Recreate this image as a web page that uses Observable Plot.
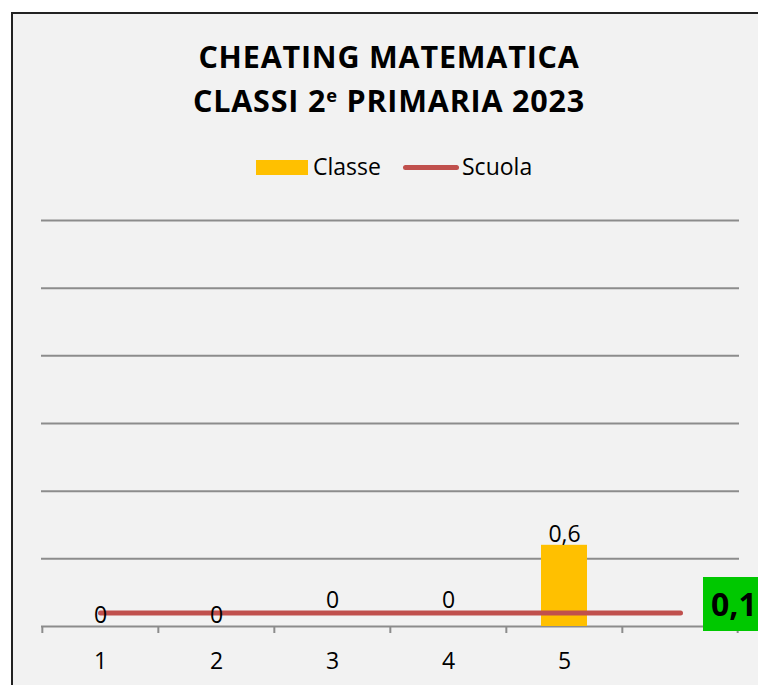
<!DOCTYPE html>
<html>
<head>
<meta charset="utf-8">
<script src="https://cdn.jsdelivr.net/npm/d3@7"></script>
<script src="https://cdn.jsdelivr.net/npm/@observablehq/plot@0.6"></script>
<style>
  html, body { margin: 0; padding: 0; background: #fff; overflow: hidden; width: 758px; height: 685px; }
  #frame { position: absolute; left: 11px; top: 12px; width: 780px; height: 700px; border-top: 2px solid #222; border-left: 2px solid #222; background: #f2f2f2; }
  #title { position: absolute; left: 0; top: 34px; width: 778px; text-align: center; font-family: "Open Sans", sans-serif; font-weight: 700; font-size: 30.5px; letter-spacing: 0.8px; line-height: 44px; color: #000; }
  #title sup { font-size: 0.6em; line-height: 0; vertical-align: 0.55em; }
  .lg { position: absolute; font-family: "Open Sans", sans-serif; font-size: 23px; line-height: 30px; color: #000; }
  #plot { position: absolute; left: 0; top: 200px; }
  #endlabel { position: absolute; left: 703px; width: 70px; height: 54px; background: #00c800; font-family: "Open Sans", sans-serif; font-weight: 700; font-size: 32px; line-height: 54px; color: #000; padding-left: 8px; box-sizing: border-box; }
</style>
</head>
<body>
<div id="frame"></div>
<div id="title">CHEATING MATEMATICA<br>CLASSI 2<sup>e</sup> PRIMARIA 2023</div>
<div id="legend"></div>
<div id="plot"></div>
<div id="endlabel"></div>
<script>
const categories = ["1", "2", "3", "4", "5", ""];
const classe = [0, 0, 0, 0, 0.6, null];
const scuola = [0.1, 0.1, 0.1, 0.1, 0.1, 0.1];
const gridValues = [0.5, 1, 1.5, 2, 2.5, 3];
const seriesNames = ["Classe", "Scuola"];
const scuolaLabel = 0.1;

const fmt = v => String(v).replace(".", ",");
const rows = categories.map((c, i) => ({cat: c, classe: classe[i], scuola: scuola[i], i}));

const W = 758, H = 485, ML = 41, MR = 19, MT = 20, MB = 59;
const bw = (W - ML - MR) / categories.length;

// legend
const legend = document.getElementById("legend");
legend.innerHTML =
  `<div style="position:absolute;left:256px;top:160px;width:52px;height:15px;background:#ffc000"></div>` +
  `<div class="lg" style="left:313px;top:151px">${seriesNames[0]}</div>` +
  `<div style="position:absolute;left:403px;top:165px;width:56px;height:5px;border-radius:2.5px;background:#c0504d"></div>` +
  `<div class="lg" style="left:462px;top:151px">${seriesNames[1]}</div>`;

const chart = Plot.plot({
  width: W, height: H,
  marginLeft: ML, marginRight: MR, marginTop: MT, marginBottom: MB,
  x: {domain: categories, padding: 0, label: null},
  y: {domain: [0, 3], axis: null},
  style: {background: "transparent", fontFamily: "Open Sans, sans-serif", fontSize: "23px", color: "#000"},
  marks: [
    Plot.ruleY(gridValues, {stroke: "#8c8c8c", strokeWidth: 2}),
    Plot.ruleY([0], {stroke: "#8c8c8c", strokeWidth: 2}),
    Plot.ruleX(categories, {x: d => d, y1: 0, y2: 0, dx: -bw / 2, insetBottom: -7, stroke: "#8c8c8c", strokeWidth: 2}),
    Plot.ruleX(categories.slice(-1), {x: d => d, y1: 0, y2: 0, dx: bw / 2 - 1, insetBottom: -7, stroke: "#8c8c8c", strokeWidth: 2}),
    Plot.barY(rows.filter(d => d.classe != null), {x: "cat", y: "classe", fill: "#ffc000", insetLeft: 35, insetRight: 35}),
    Plot.lineY(rows, {x: "cat", y: "scuola", stroke: "#c0504d", strokeWidth: 5, strokeLinecap: "round"}),
    Plot.text(rows.filter(d => d.classe != null && d.i !== 2 && d.i !== 3), {x: "cat", y: "classe", text: d => fmt(d.classe), dy: -11, fill: "#000"}),
    Plot.text(rows.filter(d => d.i === 2 || d.i === 3), {x: "cat", y: "classe", text: d => fmt(d.classe), dy: -26, fill: "#000"}),
    Plot.axisX({tickSize: 0, tickPadding: 26, fontSize: 23, fill: "#000", label: null})
  ]
});
document.getElementById("plot").appendChild(chart);

const yPx = chart.scale("y").apply(scuolaLabel) + 200;
const el = document.getElementById("endlabel");
el.textContent = fmt(scuolaLabel);
el.style.top = (yPx - 35.5) + "px";
</script>
</body>
</html>
